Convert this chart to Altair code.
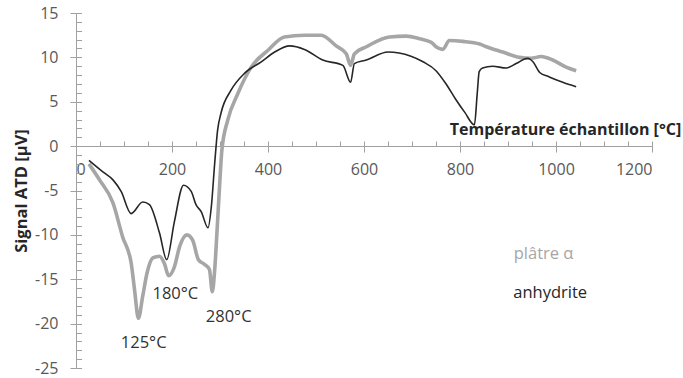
import altair as alt
import pandas as pd

# Courbes ATD : plâtre alpha et anhydrite
temp_platre = [27, 49, 77, 97, 115, 122, 130, 139, 148, 160, 174, 184, 193, 205,
               216, 231, 243, 255, 267, 278, 284, 289, 294, 299, 304, 316, 337,
               365, 400, 434, 476, 511, 542, 563, 572, 580, 605, 653, 688, 716,
               740, 750, 764, 778, 806, 841, 855, 889, 924, 948, 969, 993, 1021,
               1042]
signal_platre = [-2.0, -3.8, -6.4, -10.2, -13.2, -16.2, -19.4, -16.9, -14.3,
                 -12.6, -12.4, -13.2, -14.6, -13.6, -11.3, -10.0, -10.6, -12.8,
                 -13.3, -13.9, -16.4, -13.9, -9.4, -4.6, -0.4, 2.9, 5.9, 8.9,
                 10.8, 12.3, 12.5, 12.5, 11.3, 10.4, 9.1, 10.4, 11.2, 12.3, 12.4,
                 12.1, 11.7, 11.2, 10.9, 11.9, 11.8, 11.5, 11.2, 10.6, 10.0, 9.9,
                 10.1, 9.7, 8.9, 8.5]

temp_anhydrite = [27, 56, 77, 94, 115, 139, 153, 174, 189, 205, 224, 240, 250,
                  261, 275, 282, 289, 295, 302, 323, 351, 386, 414, 445, 476,
                  514, 556, 572, 580, 605, 650, 673, 723, 750, 771, 792, 810,
                  830, 836, 840, 847, 868, 896, 917, 941, 952, 966, 986, 1014,
                  1042]
signal_anhydrite = [-1.6, -2.9, -3.8, -5.1, -7.6, -6.3, -6.6, -9.8, -12.8, -8.5,
                    -4.4, -5.1, -6.6, -7.4, -9.2, -6.8, -1.9, 1.8, 3.7, 6.3, 8.2,
                    9.5, 10.6, 11.3, 10.9, 9.7, 9.1, 7.2, 9.3, 9.7, 10.6, 10.5,
                    9.5, 8.5, 7.0, 5.2, 3.8, 2.4, 6.0, 8.4, 8.8, 9.0, 8.8, 9.3,
                    9.9, 9.5, 8.3, 7.8, 7.2, 6.7]

# Annotations des pics endothermiques
pic_labels = ["125°C", "180°C", "280°C"]
pic_x = [141, 207, 318]
pic_y = [-22.2, -16.7, -19.2]

# Légende en texte libre
leg_labels = ["plâtre α", "anhydrite"]
leg_x = [912, 911]
leg_y = [-12.2, -16.5]

GRIS = "#a6a6a6"
NOIR = "#262626"
AXE = "#a0a0a0"
FONT = "Open Sans"

df_platre = pd.DataFrame({"T": temp_platre, "S": signal_platre})
df_anhy = pd.DataFrame({"T": temp_anhydrite, "S": signal_anhydrite})
df_pics = pd.DataFrame({"T": pic_x, "S": pic_y, "txt": pic_labels})
df_leg = pd.DataFrame({"T": leg_x, "S": leg_y, "txt": leg_labels,
                       "col": [GRIS, NOIR]})

xs = alt.Scale(domain=[0, 1200], nice=False, zero=False)
ys = alt.Scale(domain=[-25, 15], nice=False, zero=False)

x_axis = alt.Axis(
    orient="bottom", offset=-222, values=list(range(0, 1201, 200)),
    tickSize=6, tickColor=AXE, domainColor=AXE, grid=False,
    labelColor="#595959", labelFont=FONT, labelFontSize=16, labelPadding=9,
    labelExpr="'' + datum.value",
    title="Température échantillon [°C]", titleFont=FONT, titleFontSize=16,
    titleFontWeight="bold", titleColor=NOIR, titleX=489, titleY=-17,
    titleAlign="center", titleBaseline="middle",
)
y_axis = alt.Axis(
    orient="left", values=list(range(-25, 16, 5)), tickSize=6, tickColor=AXE,
    domainColor=AXE, grid=False, labelColor="#595959", labelFont=FONT,
    labelFontSize=16, labelPadding=12, labelExpr="'' + datum.value",
    title="Signal ATD [µV]", titleFont=FONT, titleFontSize=16.5,
    titleFontWeight="bold", titleColor=NOIR, titleX=-55, titleY=177.5,
    titleAngle=270, titleAlign="center", titleBaseline="middle",
)

# Graduations secondaires tournées vers l'intérieur
x_minor = alt.Axis(orient="top", offset=-133, values=list(range(0, 1201, 50)),
                   tickSize=5, tickColor=AXE, domain=False, labels=False,
                   grid=False, title=None)
y_minor = alt.Axis(orient="right", offset=-576, values=list(range(-25, 16)),
                   tickSize=5.5, tickColor=AXE, domain=False, labels=False,
                   grid=False, title=None)

courbe_platre = alt.Chart(df_platre).mark_line(
    color=GRIS, strokeWidth=3.6, interpolate="monotone"
).encode(
    x=alt.X("T:Q", scale=xs, axis=x_axis),
    y=alt.Y("S:Q", scale=ys, axis=y_axis),
)

courbe_anhy = alt.Chart(df_anhy).mark_line(
    color=NOIR, strokeWidth=1.6, interpolate="monotone"
).encode(
    x=alt.X("T:Q", scale=xs, axis=None),
    y=alt.Y("S:Q", scale=ys, axis=None),
)

graduations = alt.Chart(df_platre).mark_point(opacity=0).encode(
    x=alt.X("T:Q", scale=xs, axis=x_minor),
    y=alt.Y("S:Q", scale=ys, axis=y_minor),
)

pics = alt.Chart(df_pics).mark_text(
    font=FONT, fontSize=16.5, color="#333333", align="center", baseline="middle"
).encode(
    x=alt.X("T:Q", scale=xs, axis=None),
    y=alt.Y("S:Q", scale=ys, axis=None),
    text="txt:N",
)

legende = alt.Chart(df_leg).mark_text(
    font=FONT, fontSize=16.5, align="left", baseline="middle"
).encode(
    x=alt.X("T:Q", scale=xs, axis=None),
    y=alt.Y("S:Q", scale=ys, axis=None),
    text="txt:N",
    color=alt.Color("col:N", scale=None),
)

chart = alt.layer(
    graduations, courbe_platre, courbe_anhy, pics, legende
).resolve_axis(x="independent", y="independent").properties(
    width=576, height=355,
    autosize=alt.AutoSizeParams(type="none"),
    padding={"left": 76, "top": 13, "right": 31, "bottom": 10},
    background="white",
).configure_view(stroke=None)

chart.save("out.html", embed_options={"renderer": "svg", "actions": False})
